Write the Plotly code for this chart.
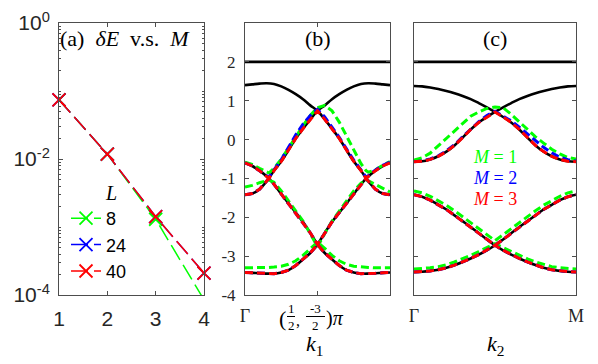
import plotly.graph_objects as go

# ---- panel (a): delta E vs M ----
M = [1, 2, 3, 4]
dE_L8 = [0.074, 0.0118, 0.0013, 8.5e-5]
dE_L24 = [0.074, 0.0118, 0.00142, 0.00021]
dE_L40 = [0.074, 0.0118, 0.00142, 0.00021]
L_names = ["8", "24", "40"]

# ---- panel (b): bands along k1 ----
kx = [0, 0.05, 0.1, 0.15, 0.2, 0.25, 0.3, 0.35, 0.4, 0.45, 0.5,
      0.55, 0.6, 0.65, 0.7, 0.75, 0.8, 0.85, 0.9, 0.95, 1.0]
flat_x = [0, 1]
flat_E = [2, 2]
b_c1 = [1.40, 1.42, 1.44, 1.45, 1.43, 1.37, 1.28, 1.17, 1.04, 0.88, 0.74,
        0.52, 0.28, 0.03, -0.27, -0.56, -0.80, -1.07, -1.28, -1.39, -1.42]
b_c2 = [-1.42, -1.39, -1.28, -1.07, -0.80, -0.56, -0.27, 0.03, 0.28, 0.52, 0.74,
        0.88, 1.04, 1.17, 1.28, 1.37, 1.43, 1.45, 1.44, 1.42, 1.40]
b_c3 = [-0.60, -0.68, -0.80, -0.95, -1.15, -1.40, -1.64, -1.88, -2.12, -2.40, -2.70,
        -2.92, -3.08, -3.24, -3.36, -3.42, -3.45, -3.45, -3.44, -3.43, -3.42]
b_c4 = [-3.42, -3.43, -3.44, -3.45, -3.45, -3.42, -3.36, -3.24, -3.08, -2.92, -2.70,
        -2.40, -2.12, -1.88, -1.64, -1.40, -1.15, -0.95, -0.80, -0.68, -0.60]

kb = [0, 0.05, 0.1, 0.15, 0.165, 0.2, 0.25, 0.3, 0.35, 0.4, 0.45, 0.5,
      0.55, 0.6, 0.65, 0.7, 0.75, 0.8, 0.835, 0.85, 0.9, 0.95, 1.0]
# M = 1 (green)
b_g1 = [-3.30, -3.30, -3.30, -3.29, -3.29, -3.28, -3.26, -3.21, -3.12, -2.98, -2.80, -2.64,
        -2.80, -2.98, -3.12, -3.21, -3.26, -3.28, -3.29, -3.29, -3.30, -3.30, -3.30]
b_g2 = [-1.22, -1.18, -1.11, -1.05, -1.04, -1.10, -1.32, -1.58, -1.84, -2.10, -2.42, -2.76,
        -2.42, -2.10, -1.84, -1.58, -1.32, -1.12, -1.05, -1.06, -1.15, -1.26, -1.35]
b_g3 = [-0.58, -0.64, -0.74, -0.84, -0.86, -0.74, -0.50, -0.22, 0.08, 0.36, 0.62, 0.82,
        0.88, 0.74, 0.45, 0.10, -0.28, -0.62, -0.80, -0.84, -0.78, -0.66, -0.57]
# M = 2 (blue)
b_b1 = [-3.42, -3.43, -3.44, -3.45, -3.45, -3.45, -3.42, -3.36, -3.24, -3.08, -2.92, -2.70,
        -2.92, -3.08, -3.24, -3.36, -3.42, -3.45, -3.45, -3.45, -3.44, -3.43, -3.42]
b_b2 = [-1.42, -1.39, -1.28, -1.07, -1.00, -1.15, -1.40, -1.64, -1.88, -2.12, -2.40, -2.70,
        -2.40, -2.12, -1.88, -1.64, -1.40, -1.15, -1.00, -1.07, -1.28, -1.39, -1.42]
b_b3 = [-0.60, -0.68, -0.80, -0.93, -0.97, -0.78, -0.52, -0.20, 0.12, 0.40, 0.62, 0.78,
        0.58, 0.32, 0.06, -0.24, -0.53, -0.78, -0.97, -0.93, -0.78, -0.66, -0.58]
# M = 3 (red)
b_r1 = [-3.42, -3.43, -3.44, -3.45, -3.45, -3.45, -3.42, -3.36, -3.24, -3.08, -2.92, -2.70,
        -2.92, -3.08, -3.24, -3.36, -3.42, -3.45, -3.45, -3.45, -3.44, -3.43, -3.42]
b_r2 = [-1.42, -1.39, -1.28, -1.07, -1.00, -1.15, -1.40, -1.64, -1.88, -2.12, -2.40, -2.70,
        -2.40, -2.12, -1.88, -1.64, -1.40, -1.15, -1.00, -1.07, -1.28, -1.39, -1.42]
b_r3 = [-0.60, -0.68, -0.80, -0.95, -1.00, -0.80, -0.56, -0.27, 0.03, 0.28, 0.52, 0.74,
        0.52, 0.28, 0.03, -0.27, -0.56, -0.80, -1.00, -0.95, -0.80, -0.68, -0.60]

# ---- panel (c): bands along k2 ----
c_A = [1.38, 1.37, 1.34, 1.30, 1.25, 1.19, 1.12, 1.04, 0.94, 0.83, 0.71,
       0.58, 0.44, 0.26, 0.05, -0.15, -0.31, -0.43, -0.51, -0.56, -0.57]
c_B = [-0.57, -0.56, -0.51, -0.43, -0.31, -0.15, 0.05, 0.26, 0.44, 0.58, 0.71,
       0.83, 0.94, 1.04, 1.12, 1.19, 1.25, 1.30, 1.34, 1.37, 1.38]
c_C = [-1.42, -1.47, -1.56, -1.68, -1.80, -1.95, -2.10, -2.25, -2.41, -2.57, -2.72,
       -2.85, -2.96, -3.06, -3.15, -3.23, -3.30, -3.35, -3.38, -3.40, -3.41]
c_D = [-3.41, -3.40, -3.38, -3.35, -3.30, -3.23, -3.15, -3.06, -2.96, -2.85, -2.72,
       -2.57, -2.41, -2.25, -2.10, -1.95, -1.80, -1.68, -1.56, -1.47, -1.42]
c_g1 = [-3.33, -3.32, -3.30, -3.27, -3.22, -3.15, -3.07, -2.98, -2.88, -2.78, -2.68,
        -2.78, -2.88, -2.98, -3.07, -3.15, -3.22, -3.27, -3.30, -3.32, -3.33]
c_g2 = [-1.32, -1.37, -1.46, -1.57, -1.69, -1.83, -1.98, -2.13, -2.29, -2.45, -2.60,
        -2.45, -2.29, -2.13, -1.98, -1.83, -1.69, -1.57, -1.46, -1.37, -1.32]
c_g3 = [-0.53, -0.47, -0.35, -0.16, 0.03, 0.23, 0.42, 0.60, 0.71, 0.80, 0.84,
        0.82, 0.65, 0.45, 0.26, 0.07, -0.09, -0.25, -0.37, -0.46, -0.50]
c_b1 = [-3.41, -3.40, -3.38, -3.35, -3.30, -3.23, -3.15, -3.06, -2.96, -2.85, -2.72,
        -2.85, -2.96, -3.06, -3.15, -3.23, -3.30, -3.35, -3.38, -3.40, -3.41]
c_b2 = [-1.42, -1.47, -1.56, -1.68, -1.80, -1.95, -2.10, -2.25, -2.41, -2.57, -2.72,
        -2.57, -2.41, -2.25, -2.10, -1.95, -1.80, -1.68, -1.56, -1.47, -1.42]
c_b3 = [-0.57, -0.55, -0.50, -0.42, -0.29, -0.13, 0.07, 0.27, 0.46, 0.62, 0.73,
        0.60, 0.48, 0.32, 0.14, -0.04, -0.20, -0.34, -0.45, -0.52, -0.55]
c_r1 = [-3.41, -3.40, -3.38, -3.35, -3.30, -3.23, -3.15, -3.06, -2.96, -2.85, -2.72,
        -2.85, -2.96, -3.06, -3.15, -3.23, -3.30, -3.35, -3.38, -3.40, -3.41]
c_r2 = [-1.42, -1.47, -1.56, -1.68, -1.80, -1.95, -2.10, -2.25, -2.41, -2.57, -2.72,
        -2.57, -2.41, -2.25, -2.10, -1.95, -1.80, -1.68, -1.56, -1.47, -1.42]
c_r3 = [-0.57, -0.56, -0.51, -0.43, -0.31, -0.15, 0.05, 0.26, 0.44, 0.58, 0.71,
        0.58, 0.44, 0.26, 0.05, -0.15, -0.31, -0.43, -0.51, -0.56, -0.57]

GREEN, BLUE, RED = "#00ff00", "#0000ff", "#ff0000"
SANS = "Liberation Sans, Arial, sans-serif"
SERIF = "Liberation Serif, Times New Roman, serif"
AX = "#4d4d4d"
NB = "\u00a0"

# the page body adds an 8px margin; place things in screen pixels
W, H, OFF = 598, 364, 8
def fx(sx):
    return (sx - OFF) / W
def fy(sy):
    return 1 - (sy - OFF) / H

fig = go.Figure()

# panel (a)
for name, vals, col in zip(L_names, [dE_L8, dE_L24, dE_L40], [GREEN, BLUE, RED]):
    fig.add_trace(go.Scatter(x=M, y=vals, name=name, mode="lines+markers",
                             line=dict(color=col, width=1.5, dash="17px,6px"),
                             marker=dict(symbol="x-thin", size=13, color=col,
                                         line=dict(color=col, width=1.8)),
                             cliponaxis=(col == GREEN), xaxis="x", yaxis="y"))

# black exact bands
for xa, ya, curves in [("x2", "y2", [b_c1, b_c2, b_c3, b_c4]),
                       ("x3", "y3", [c_A, c_B, c_C, c_D])]:
    fig.add_trace(go.Scatter(x=flat_x, y=flat_E, mode="lines", showlegend=False,
                             line=dict(color="black", width=2.6), xaxis=xa, yaxis=ya))
    for cv in curves:
        fig.add_trace(go.Scatter(x=kx, y=cv, mode="lines", showlegend=False,
                                 line=dict(color="black", width=2.6, shape="spline"),
                                 xaxis=xa, yaxis=ya))

# dashed truncated bands
for col, bands_b, bands_c in [(GREEN, [b_g1, b_g2, b_g3], [c_g1, c_g2, c_g3]),
                              (BLUE, [b_b1, b_b2, b_b3], [c_b1, c_b2, c_b3]),
                              (RED, [b_r1, b_r2, b_r3], [c_r1, c_r2, c_r3])]:
    for bv in bands_b:
        fig.add_trace(go.Scatter(x=kb, y=bv, mode="lines", showlegend=False,
                                 line=dict(color=col, width=3, dash="8px,4px"),
                                 xaxis="x2", yaxis="y2"))
    for cv in bands_c:
        fig.add_trace(go.Scatter(x=kx, y=cv, mode="lines", showlegend=False,
                                 line=dict(color=col, width=3, dash="8px,4px"),
                                 xaxis="x3", yaxis="y3"))

ydom = [fy(295), fy(23)]
frame = dict(showline=True, linecolor=AX, linewidth=1, mirror="allticks",
             ticks="inside", ticklen=4, tickcolor=AX, showgrid=False, zeroline=False,
             automargin=False)
minor_vals = [k * 10.0 ** e for e in range(-4, 0) for k in range(1, 10) if not (k == 1 and e % 2 == 0)]

fig.update_layout(
    width=W, height=H, margin=dict(l=0, r=0, t=0, b=0),
    plot_bgcolor="white", paper_bgcolor="white",
    xaxis=dict(domain=[fx(59), fx(204)], range=[1, 4], tickvals=[1, 2, 3, 4],
               tickfont=dict(family=SANS, size=21, color="#262626"),
               ticklabelstandoff=5, anchor="y", **frame),
    yaxis=dict(domain=ydom, type="log", range=[-4, 0], tickvals=[1e-4, 1e-2, 1],
               ticktext=["10<sup>-4</sup>", "10<sup>-2</sup>", "10<sup>0</sup>"],
               tickfont=dict(family=SANS, size=21, color="#262626"),
               minor=dict(tickvals=minor_vals, ticks="inside", ticklen=2, tickcolor=AX),
               ticklabelstandoff=4, anchor="x", **frame),
    xaxis2=dict(domain=[fx(245), fx(390)], range=[0, 1], tickvals=[0, 0.5],
                ticktext=["Γ", " "],
                tickfont=dict(family=SERIF, size=18, color="#262626"),
                ticklabelstandoff=4, anchor="y2", **frame),
    yaxis2=dict(domain=ydom, range=[-4, 3], tickvals=[-4, -3, -2, -1, 0, 1, 2],
                ticktext=["-4", "-3", "-2", "-1", "0", "1", "2"],
                tickfont=dict(family=SERIF, size=17, color="#262626"),
                ticklabelstandoff=5, anchor="x2", **frame),
    xaxis3=dict(domain=[fx(414), fx(576)], range=[0, 1], tickvals=[0, 1],
                ticktext=["Γ", "M"],
                tickfont=dict(family=SERIF, size=18, color="#262626"),
                ticklabelstandoff=4, anchor="y3", **frame),
    yaxis3=dict(domain=ydom, range=[-4, 3], tickvals=[-4, -3, -2, -1, 0, 1, 2],
                showticklabels=False, anchor="x3", **frame),
    legend=dict(x=fx(66), y=fy(174), xanchor="left", yanchor="top",
                bgcolor="rgba(0,0,0,0)", tracegroupgap=0,
                font=dict(family=SANS, size=18, color="black"),
                title=dict(text=NB * 5 + "<i>L</i>", side="top center",
                           font=dict(family=SERIF, size=20, color="black"))),
    showlegend=True,
)

def label(sx, sy, text, size=19, color="black", xanchor="center"):
    fig.add_annotation(x=fx(sx), y=fy(sy), xref="paper", yref="paper", text=text,
                       xanchor=xanchor, yanchor="middle", showarrow=False,
                       font=dict(family=SERIF, size=size, color=color))

label(58, 38, "(a)" + NB * 2 + "<i>δE</i>" + NB * 2 + "v.s." + NB * 2 + "<i>M</i>",
      size=22, xanchor="left")
label(317.5, 38, "(b)", size=22)
label(495, 38, "(c)", size=22)
label(314, 345, "<i>k</i><sub>1</sub>", size=22)
label(495, 345, "<i>k</i><sub>2</sub>", size=22)
label(495, 157, "<i>M</i> = 1", size=18, color=GREEN)
label(495, 178, "<i>M</i> = 2", size=18, color=BLUE)
label(495, 199, "<i>M</i> = 3", size=18, color=RED)

# tick label (1/2, -3/2)pi written as stacked fractions
label(282, 318, "(", size=22)
label(291, 308, "1", size=13)
label(291, 325, "2", size=13)
label(298, 320, ",", size=16)
label(315, 308, "-3", size=13)
label(315, 325, "2", size=13)
label(335, 318, ")<i>π</i>", size=20)
for x0, x1 in [(287, 295), (306, 325)]:
    fig.add_shape(type="line", xref="paper", yref="paper", x0=fx(x0), x1=fx(x1),
                  y0=fy(316.5), y1=fy(316.5), line=dict(color="black", width=1))

fig.write_html("out.html")
